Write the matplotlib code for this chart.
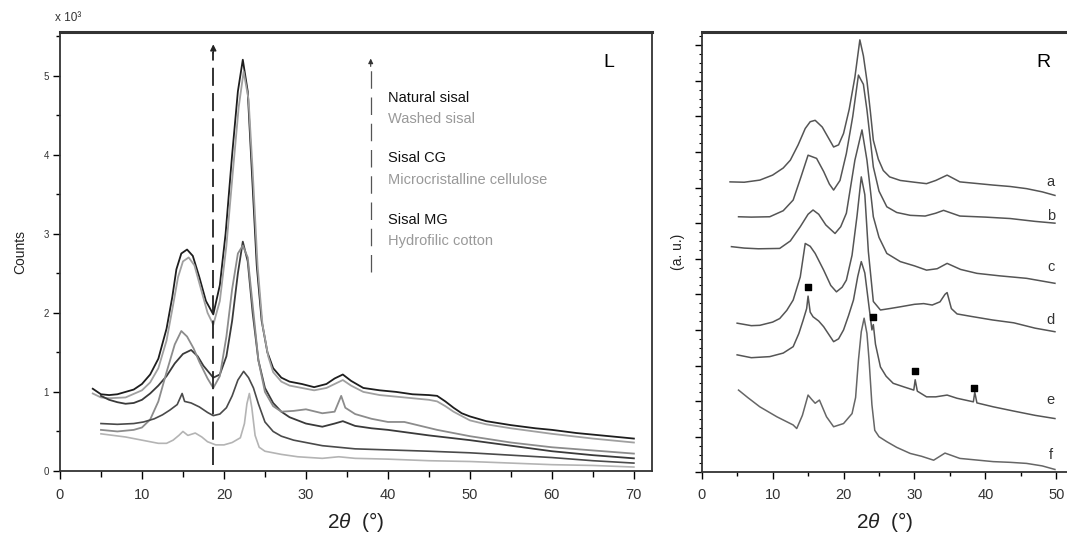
import numpy as np
import matplotlib
matplotlib.use("Agg")
import matplotlib.pyplot as plt
from matplotlib.ticker import MultipleLocator, AutoMinorLocator

plt.rcParams['font.family'] = ['Liberation Sans', 'DejaVu Sans']
plt.rcParams['mathtext.fontset'] = 'custom'
plt.rcParams['mathtext.it'] = 'Liberation Sans:italic'
plt.rcParams['mathtext.rm'] = 'Liberation Sans'


# ************ #
# *** DATA *** #
# ************ #

# left panel, counts / 1000
natX = [4, 5, 6, 7, 8, 9, 10, 11, 12, 13, 13.7, 14.2, 14.8, 15.5, 16.2, 17, 17.8, 18.7, 19.5, 20.2, 21, 21.7,
        22.3, 22.9, 23.4, 24, 24.6, 25.3, 26, 27, 28, 29.5, 31, 32.5, 33.5, 34.5, 35.5, 37, 39, 41, 43, 45, 46,
        47, 48, 49, 50, 52, 55, 58, 60, 63, 66, 70]
natY = [1.04, 0.97, 0.96, 0.97, 1.0, 1.03, 1.1, 1.22, 1.42, 1.8, 2.2, 2.55, 2.75, 2.8, 2.72, 2.45, 2.15, 1.98,
        2.35, 3.0, 4.0, 4.8, 5.2, 4.8, 3.8, 2.6, 1.9, 1.5, 1.3, 1.18, 1.13, 1.1, 1.06, 1.1, 1.17, 1.22, 1.14,
        1.05, 1.02, 1.0, 0.97, 0.96, 0.95, 0.88, 0.8, 0.73, 0.69, 0.63, 0.58, 0.54, 0.52, 0.48, 0.45, 0.41]

washX = [4, 5, 6, 8, 10, 11, 12, 13, 13.8, 14.4, 15, 15.7, 16.4, 17.2, 18, 18.7, 19.5, 20.3, 21.1, 21.8, 22.4,
         23, 23.5, 24.1, 24.7, 25.4, 26, 27, 28, 29.5, 31, 32.5, 33.5, 34.5, 35.5, 37, 39, 41, 43, 45, 46, 47,
         48, 50, 52, 55, 60, 65, 70]
washY = [0.98, 0.93, 0.92, 0.93, 1.02, 1.12, 1.3, 1.65, 2.1, 2.45, 2.65, 2.7, 2.6, 2.3, 2.0, 1.85, 2.15, 2.85,
         3.8, 4.6, 5.05, 4.7, 3.8, 2.6, 1.85, 1.45, 1.25, 1.13, 1.08, 1.05, 1.02, 1.05, 1.1, 1.15, 1.08, 1.0,
         0.96, 0.94, 0.92, 0.9, 0.88, 0.82, 0.75, 0.64, 0.59, 0.54, 0.47, 0.41, 0.36]

cgX = [5, 6, 7, 8, 9, 10, 11, 12, 13, 14, 15, 16, 16.8, 17.5, 18.7, 19.5, 20.3, 21, 21.7, 22.3, 22.9, 23.5, 24.2,
       25, 26, 27, 28, 30, 32, 33.5, 34.5, 36, 38, 40, 45, 50, 55, 60, 65, 70]
cgY = [0.95, 0.9, 0.87, 0.85, 0.86, 0.9, 0.98, 1.08, 1.2, 1.36, 1.48, 1.53, 1.45, 1.33, 1.18, 1.22, 1.45, 1.9,
       2.5, 2.9, 2.65, 2.0, 1.4, 1.05, 0.86, 0.75, 0.68, 0.6, 0.56, 0.6, 0.63, 0.57, 0.54, 0.52, 0.45, 0.39,
       0.32, 0.25, 0.2, 0.16]

mccX = [5, 7, 9, 10, 11, 12, 13, 14, 14.8, 15.5, 16.3, 17, 18, 18.7, 19.5, 20.3, 21, 21.7, 22.3, 22.9, 23.5,
        24.2, 25, 26, 27, 28.5, 30, 32, 33.5, 34.3, 34.8, 36, 38, 40, 42, 44, 46, 50, 55, 60, 65, 70]
mccY = [0.52, 0.5, 0.52, 0.55, 0.65, 0.88, 1.25, 1.6, 1.77, 1.7, 1.55, 1.38, 1.17, 1.05, 1.2, 1.7, 2.3, 2.75,
        2.85, 2.7, 2.1, 1.4, 1.0, 0.82, 0.75, 0.76, 0.78, 0.73, 0.75, 0.95, 0.8, 0.72, 0.66, 0.62, 0.62, 0.57,
        0.52, 0.44, 0.36, 0.3, 0.26, 0.22]

mgX = [5, 7, 9, 10.2, 11.5, 12.5, 13.4, 14.3, 14.9, 15.2, 16, 17, 18, 18.7, 19.5, 20.3, 21, 21.7, 22.4, 23,
       23.6, 24.2, 25, 26, 27, 28.5, 30, 32, 34, 36, 39, 45, 50, 55, 60, 65, 70]
mgY = [0.6, 0.59, 0.6, 0.62, 0.66, 0.71, 0.77, 0.84, 0.98, 0.88, 0.86, 0.81, 0.74, 0.7, 0.72, 0.8, 0.95, 1.15,
       1.26, 1.18, 1.05, 0.85, 0.62, 0.5, 0.44, 0.39, 0.36, 0.32, 0.3, 0.28, 0.27, 0.25, 0.23, 0.2, 0.17, 0.13,
       0.1]

cotX = [5, 6.5, 8, 10, 12, 13, 13.8, 14.5, 15, 15.6, 16.5, 17.3, 18, 19, 20, 21, 22, 22.5, 22.8, 23.1, 23.4,
        23.8, 24.3, 25, 27, 29, 32, 34, 36, 40, 45, 50, 55, 60, 65, 70]
cotY = [0.47, 0.45, 0.43, 0.39, 0.35, 0.35, 0.39, 0.45, 0.5, 0.45, 0.48, 0.43, 0.37, 0.33, 0.33, 0.36, 0.42,
        0.6, 0.85, 0.98, 0.8, 0.45, 0.3, 0.25, 0.21, 0.18, 0.16, 0.18, 0.16, 0.15, 0.13, 0.12, 0.1, 0.08, 0.07,
        0.05]

leftNames = ["Natural sisal", "Washed sisal", "Sisal CG", "Microcristalline cellulose", "Sisal MG",
             "Hydrofilic cotton"]

# right panel, stacked (a.u.)
aX = [4, 6, 8.2, 10, 11.5, 12.5, 13.6, 14.6, 15.3, 16, 17, 18, 18.6, 19.3, 20, 20.8, 21.6, 22.3, 22.8, 23.3,
      23.8, 24.2, 24.9, 25.6, 26.5, 28, 30, 31.7, 33, 34.6, 36.4, 38.5, 41.1, 43.5, 45.8, 48, 49.8]
aY = [8.16, 8.15, 8.21, 8.35, 8.55, 8.77, 9.2, 9.66, 9.85, 9.89, 9.7, 9.35, 9.14, 9.2, 9.52, 10.2, 11.1, 12.15,
      11.7, 11.0, 10.1, 9.33, 8.8, 8.48, 8.3, 8.2, 8.15, 8.11, 8.2, 8.35, 8.16, 8.12, 8.07, 8.03, 7.97, 7.88,
      7.78]

bX = [5.2, 7, 9.6, 11.5, 12.9, 14, 15, 16.2, 17.2, 18, 18.6, 19.5, 20.4, 21.3, 22.1, 22.8, 23.3, 23.8, 24.2,
      25, 26.1, 27.5, 29.4, 31.5, 33, 34.1, 36.4, 40, 43.5, 47, 49.8]
bY = [7.18, 7.17, 7.18, 7.35, 7.65, 8.3, 8.91, 8.82, 8.45, 8.1, 7.93, 8.2, 8.96, 10.0, 11.16, 10.9, 10.18, 9.3,
      8.58, 7.9, 7.46, 7.3, 7.22, 7.2, 7.28, 7.36, 7.2, 7.17, 7.13, 7.05, 7.0]

cX = [4.2, 6, 8, 11, 12.5, 13.9, 15, 15.7, 16.5, 17.5, 18.8, 19.6, 20.4, 21.6, 22.6, 23.3, 23.8, 24.2, 25, 26.1,
      28, 30, 31.7, 33.2, 34.6, 36.5, 38.8, 42, 45.8, 49.8]
cY = [6.34, 6.3, 6.28, 6.29, 6.5, 6.9, 7.25, 7.37, 7.25, 6.95, 6.71, 6.9, 7.28, 8.77, 9.62, 8.77, 7.9, 7.18,
      6.6, 6.15, 5.92, 5.8, 5.68, 5.72, 5.87, 5.7, 5.59, 5.52, 5.45, 5.31]

dX = [5, 7, 8.2, 10, 11, 12, 12.9, 13.9, 14.6, 15.3, 16, 17.2, 18.2, 19, 19.8, 20.4, 21.2, 21.9, 22.5, 23.0,
      23.5, 24.2, 25.2, 26.5, 28, 30, 31.3, 32.5, 33.6, 34.3, 34.6, 35.2, 36, 38, 41, 44, 47, 49.8]
dY = [4.19, 4.12, 4.13, 4.22, 4.32, 4.55, 4.84, 5.49, 6.43, 6.35, 6.15, 5.68, 5.25, 5.07, 5.2, 5.4, 6.1, 7.2,
      8.3, 7.8, 6.2, 4.8, 4.56, 4.6, 4.65, 4.72, 4.74, 4.7, 4.79, 5.0, 5.05, 4.6, 4.45, 4.38, 4.28, 4.2, 4.05,
      3.95]

eX = [5, 7, 9.6, 11.5, 12.9, 13.7, 14.3, 14.8, 15, 15.3, 15.7, 16.5, 17.2, 18, 18.6, 19.3, 20, 20.7, 21.4, 22,
      22.5, 23, 23.5, 24.0, 24.2, 24.5, 25.2, 26, 27, 28.5, 29.9, 30.1, 30.4, 31.7, 33, 34.6, 36, 38.3, 38.5,
      38.8, 41.1, 44, 47, 49.8]
eY = [3.3, 3.22, 3.25, 3.35, 3.53, 3.9, 4.27, 4.6, 4.95, 4.5, 4.37, 4.25, 4.09, 3.85, 3.67, 3.75, 4.0, 4.4,
      4.84, 5.5, 5.92, 5.6, 4.8, 4.0, 4.15, 3.6, 2.96, 2.7, 2.5, 2.4, 2.31, 2.6, 2.28, 2.12, 2.12, 2.17, 2.08,
      1.98, 2.25, 1.95, 1.84, 1.72, 1.6, 1.51]

fX = [5.2, 6.5, 8.2, 10.6, 12.9, 13.4, 14.2, 15, 15.5, 16, 16.6, 17.6, 18.6, 20, 21.2, 21.7, 22.1, 22.5, 22.9,
      23.3, 23.6, 24, 24.4, 25, 26.1, 27.5, 29.4, 31, 32.7, 34.3, 36.4, 38.5, 41.1, 43.5, 45.8, 48, 49.8]
fY = [2.31, 2.1, 1.84, 1.56, 1.33, 1.23, 1.6, 2.17, 2.05, 1.94, 2.03, 1.56, 1.28, 1.37, 1.65, 2.1, 3.15, 3.95,
      4.33, 3.9, 3.15, 1.9, 1.18, 1.0, 0.86, 0.7, 0.53, 0.45, 0.34, 0.54, 0.39, 0.35, 0.3, 0.28, 0.25, 0.18,
      0.08]

rightLabels = ["a", "b", "c", "d", "e", "f"]
rightLabelY = [8.16, 7.2, 5.78, 4.28, 2.03, 0.49]

# peaks marked with squares on curve e
markX = [14.95, 24.2, 30.1, 38.45]
markY = [5.21, 4.37, 2.85, 2.38]


# ************** #
# *** FIGURE *** #
# ************** #

fig = plt.figure(figsize=(10.67, 5.43), dpi=100)
axL = fig.add_axes([0.0562, 0.1326, 0.5548, 0.8084])
axR = fig.add_axes([0.6576, 0.1302, 0.3424, 0.8108])

leftSeries = [(natX, natY, '#1e1e1e', 1.3), (washX, washY, '#a0a0a0', 1.3), (cgX, cgY, '#3a3a3a', 1.3),
              (mccX, mccY, '#8c8c8c', 1.3), (mgX, mgY, '#4a4a4a', 1.2), (cotX, cotY, '#b4b4b4', 1.2)]
for x, y, col, lw in leftSeries:
    axL.plot(x, y, color=col, lw=lw)

axL.set_xlim(0, 72.2)
axL.set_ylim(0, 5.55)
axL.xaxis.set_major_locator(MultipleLocator(10))
axL.xaxis.set_minor_locator(MultipleLocator(5))
axL.yaxis.set_major_locator(MultipleLocator(1))
axL.yaxis.set_minor_locator(MultipleLocator(0.5))
axL.tick_params(axis='x', which='major', direction='out', length=6, width=1, labelsize=10.5, pad=6,
                labelcolor='#333333')
axL.tick_params(axis='x', which='minor', direction='out', length=4, width=1)
axL.tick_params(axis='y', which='major', direction='out', length=5, width=1, labelsize=7, pad=3,
                labelcolor='#333333')
axL.tick_params(axis='y', which='minor', direction='out', length=3, width=1)
axL.set_yticks(axL.get_yticks())
axL.set_yticklabels([f"{int(v)}" for v in axL.get_yticks()])
axL.set_ylim(0, 5.55)
for s in axL.spines.values():
    s.set_linewidth(1.3)
    s.set_color('#333333')
axL.spines['top'].set_linewidth(2.2)

axL.set_ylabel("Counts", fontsize=10, labelpad=12, color='#222222')
axL.set_xlabel(r"2$\it{\theta}$  (°)", fontsize=15, labelpad=6, color='#222222')
axL.text(0.0135, 1.032, "x 10³", transform=axL.transAxes, fontsize=8.5, ha='center', va='center',
         color='#333333')
axL.text(0.927, 0.93, "L", transform=axL.transAxes, fontsize=14, ha='center', va='center')

# legend text block
legY = [98, 119, 158, 180, 220, 241]
for name, ypx, col in zip(leftNames, legY, ['#111111', '#999999'] * 3):
    axL.text((388 - 60) / 592, 1 - (ypx - 32) / 439, name, transform=axL.transAxes, fontsize=10.5,
             ha='left', va='center', color=col)

# dashed arrows
axL.plot([18.7, 18.7], [0.07, 5.3], color='#222222', lw=1.3, ls=(0, (10, 4)))
axL.annotate("", xy=(18.7, 5.43), xytext=(18.7, 5.25),
             arrowprops=dict(arrowstyle='-|>', color='#222222', lw=1, mutation_scale=9))
axL.plot([37.9, 37.9], [2.52, 5.1], color='#555555', lw=0.9, ls=(0, (14, 7)))
axL.annotate("", xy=(37.9, 5.25), xytext=(37.9, 5.08),
             arrowprops=dict(arrowstyle='-|>', color='#333333', lw=0.8, mutation_scale=7))

# right panel
rightSeries = [(aX, aY), (bX, bY), (cX, cY), (dX, dY), (eX, eY), (fX, fY)]
for (x, y), col in zip(rightSeries, ['#555555'] * 5 + ['#666666']):
    axR.plot(x, y, color=col, lw=1.1)
for lab, ly in zip(rightLabels, rightLabelY):
    axR.text(49.2, ly, lab, fontsize=10.5, ha='center', va='center', color='#333333')
axR.scatter(markX, markY, marker='s', s=18, color='black', zorder=5)

axR.set_xlim(0, 51.5)
axR.set_ylim(0, 12.37)
axR.xaxis.set_major_locator(MultipleLocator(10))
axR.xaxis.set_minor_locator(MultipleLocator(5))
axR.yaxis.set_major_locator(MultipleLocator(1))
axR.yaxis.set_minor_locator(AutoMinorLocator(4))
axR.tick_params(axis='x', which='major', direction='out', length=5, width=1, labelsize=10.5, pad=6,
                labelcolor='#333333')
axR.tick_params(axis='x', which='minor', direction='out', length=3, width=1)
axR.tick_params(axis='y', which='major', direction='out', length=5, width=1, labelleft=False)
axR.tick_params(axis='y', which='minor', direction='out', length=2.5, width=0.8)
axR.spines['right'].set_visible(False)
for s in axR.spines.values():
    s.set_linewidth(1.3)
    s.set_color('#333333')
axR.spines['top'].set_linewidth(2.2)
axR.set_ylabel("(a. u.)", fontsize=10, labelpad=6, color='#222222')
axR.set_xlabel(r"2$\it{\theta}$  (°)", fontsize=15, labelpad=6, color='#222222')
axR.text(0.935, 0.93, "R", transform=axR.transAxes, fontsize=14, ha='center', va='center')

fig.savefig("out.png", dpi=100)
